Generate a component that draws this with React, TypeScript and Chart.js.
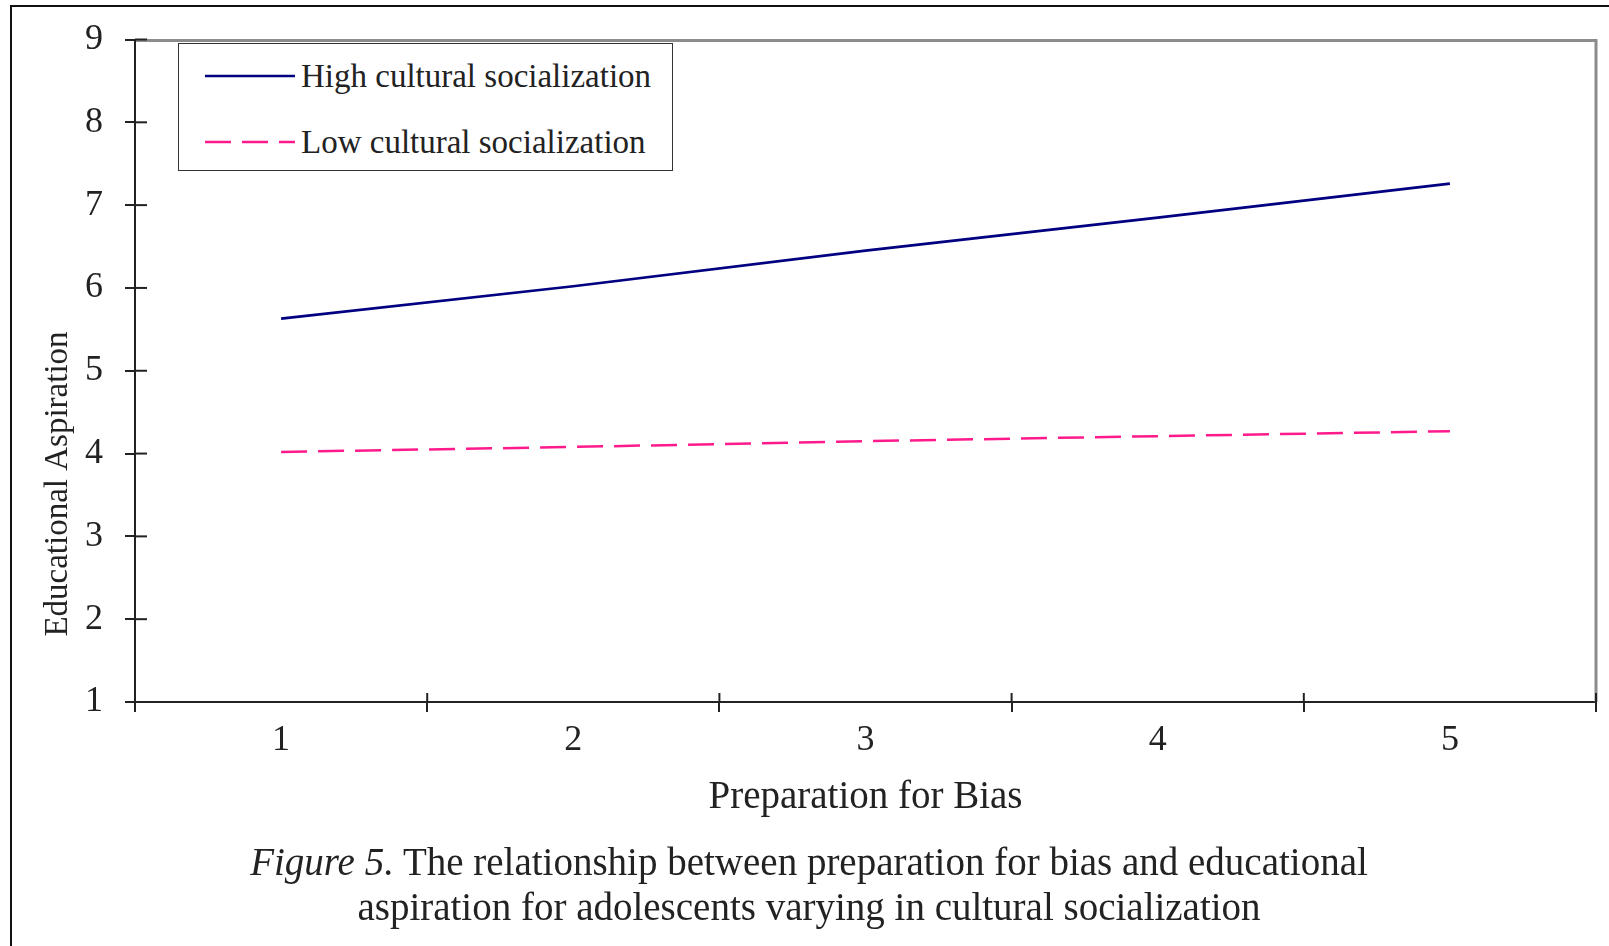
import React, { useEffect, useRef } from 'react';
import { Chart, registerables } from 'chart.js';

Chart.register(...registerables);

// ---- data ----
const categories = ['1', '2', '3', '4', '5'];
const highSeries = [5.63, 6.02, 6.45, 6.85, 7.26];
const lowSeries = [4.02, 4.08, 4.15, 4.21, 4.27];
const seriesLabels = ['High cultural socialization', 'Low cultural socialization'];
const seriesColors = ['#000080', '#ff1a8c'];
const seriesDash: number[][] = [[], [26, 11]];
const yMin = 1;
const yMax = 9;
const yStep = 1;
const xTitle = 'Preparation for Bias';
const yTitle = 'Educational Aspiration';
const captionItalic = 'Figure 5.';
const captionLine1 = ' The relationship between preparation for bias and educational';
const captionLine2 = 'aspiration for adolescents varying in cultural socialization';

const FONT = '"Liberation Serif", "Times New Roman", serif';
const TEXT = '#222';

const W = 1609;
const H = 946;

const decorPlugin = {
  id: 'decor',
  beforeDatasetsDraw(chart: any) {
    const { ctx, chartArea: a } = chart;
    ctx.save();
    ctx.strokeStyle = '#8c8c8c';
    ctx.lineWidth = 3;
    ctx.beginPath();
    ctx.moveTo(a.left + 1, a.top + 1);
    ctx.lineTo(a.right, a.top + 1);
    ctx.lineTo(a.right, a.bottom);
    ctx.stroke();
    ctx.restore();
  },
  afterDraw(chart: any) {
    const { ctx, chartArea: a, scales } = chart;
    ctx.save();
    ctx.strokeStyle = TEXT;
    ctx.lineWidth = 2;
    const ys = scales.y;
    ys.ticks.forEach((_t: any, i: number) => {
      const py = ys.getPixelForTick(i);
      ctx.beginPath();
      ctx.moveTo(a.left, py);
      ctx.lineTo(a.left + 12, py);
      ctx.stroke();
    });
    const xs = scales.x;
    for (let i = 0; i <= categories.length; i++) {
      const px = xs.getPixelForValue(i - 0.5);
      ctx.beginPath();
      ctx.moveTo(px, a.bottom);
      ctx.lineTo(px, a.bottom - 9);
      ctx.stroke();
    }
    ctx.translate(58, 484);
    ctx.rotate(-Math.PI / 2);
    ctx.font = `33px ${FONT}`;
    ctx.fillStyle = TEXT;
    ctx.textAlign = 'center';
    ctx.textBaseline = 'middle';
    ctx.fillText(yTitle, 0, 0);
    ctx.restore();
  },
};

export default function App() {
  const canvasRef = useRef<HTMLCanvasElement | null>(null);

  useEffect(() => {
    document.body.style.margin = '0';
    const canvas = canvasRef.current;
    if (!canvas) return;
    const chart = new Chart(canvas, {
      type: 'line',
      data: {
        labels: categories,
        datasets: [
          {
            label: seriesLabels[0],
            data: highSeries,
            borderColor: seriesColors[0],
            backgroundColor: seriesColors[0],
            borderWidth: 2.7,
            borderDash: seriesDash[0],
            pointRadius: 0,
            tension: 0,
            fill: false,
          },
          {
            label: seriesLabels[1],
            data: lowSeries,
            borderColor: seriesColors[1],
            backgroundColor: seriesColors[1],
            borderWidth: 2.5,
            borderDash: seriesDash[1],
            pointRadius: 0,
            tension: 0,
            fill: false,
          },
        ],
      },
      options: {
        responsive: false,
        animation: false,
        devicePixelRatio: 1,
        layout: { padding: { top: 39.5, right: 13, bottom: 124.6, left: 0 } },
        plugins: {
          legend: { display: false },
          tooltip: { enabled: false },
          title: { display: false },
        },
        scales: {
          x: {
            type: 'category',
            offset: true,
            grid: {
              offset: true,
              drawOnChartArea: false,
              drawTicks: true,
              tickLength: 10,
              color: TEXT,
              lineWidth: 2,
            },
            border: { display: true, color: TEXT, width: 2 },
            ticks: {
              color: TEXT,
              font: { family: FONT, size: 36 },
              padding: 7,
              maxRotation: 0,
            },
            title: {
              display: true,
              text: xTitle,
              color: TEXT,
              font: { family: FONT, size: 39 },
              padding: { top: 0, bottom: 0 },
            },
            afterFit: (scale: any) => {
              scale.height = 119.4;
              scale.paddingLeft = 0;
              scale.paddingRight = 0;
            },
          },
          y: {
            type: 'linear',
            min: yMin,
            max: yMax,
            ticks: {
              stepSize: yStep,
              color: TEXT,
              font: { family: FONT, size: 36 },
              padding: 22,
            },
            grid: {
              drawOnChartArea: false,
              drawTicks: true,
              tickLength: 10,
              color: TEXT,
              lineWidth: 2,
            },
            border: { display: true, color: TEXT, width: 2 },
            afterFit: (scale: any) => {
              scale.width = 135;
              scale.paddingTop = 0;
              scale.paddingBottom = 0;
            },
          },
        },
      },
      plugins: [decorPlugin],
    });
    return () => chart.destroy();
  }, []);

  return (
    <div style={{ position: 'fixed', left: 0, top: 0, width: W, height: H, background: '#fff', overflow: 'hidden' }}>
      {/* outer figure frame */}
      <div
        style={{
          position: 'absolute',
          left: 10,
          top: 5,
          width: W,
          height: H,
          borderLeft: '2px solid #111',
          borderTop: '2px solid #111',
        }}
      />
      <canvas ref={canvasRef} width={W} height={H} style={{ position: 'absolute', left: 0, top: 0, width: W, height: H }} />
      {/* legend */}
      <div
        style={{
          position: 'absolute',
          left: 178,
          top: 43,
          width: 493,
          height: 126,
          border: '1.5px solid #333',
          background: '#fff',
        }}
      >
        {seriesLabels.map((lab, i) => (
          <div key={lab} style={{ position: 'absolute', left: 0, top: i === 0 ? 32 : 97.5, width: '100%', height: 0 }}>
            <svg width={92} height={10} style={{ position: 'absolute', left: 26, top: -5 }}>
              <line
                x1={0}
                y1={5}
                x2={90}
                y2={5}
                stroke={seriesColors[i]}
                strokeWidth={2.5}
                strokeDasharray={seriesDash[i].length ? seriesDash[i].join(' ') : undefined}
              />
            </svg>
            <div
              style={{
                position: 'absolute',
                left: 122,
                top: -20,
                height: 40,
                lineHeight: '40px',
                fontFamily: FONT,
                fontSize: 33,
                color: TEXT,
                whiteSpace: 'nowrap',
              }}
            >
              {lab}
            </div>
          </div>
        ))}
      </div>
      {/* caption */}
      <div
        style={{
          position: 'absolute',
          left: 0,
          top: 839,
          width: 1618,
          textAlign: 'center',
          fontFamily: FONT,
          fontSize: 39,
          lineHeight: '45px',
          color: TEXT,
          whiteSpace: 'nowrap',
        }}
      >
        <div>
          <i>{captionItalic}</i>
          {captionLine1}
        </div>
        <div>{captionLine2}</div>
      </div>
    </div>
  );
}
